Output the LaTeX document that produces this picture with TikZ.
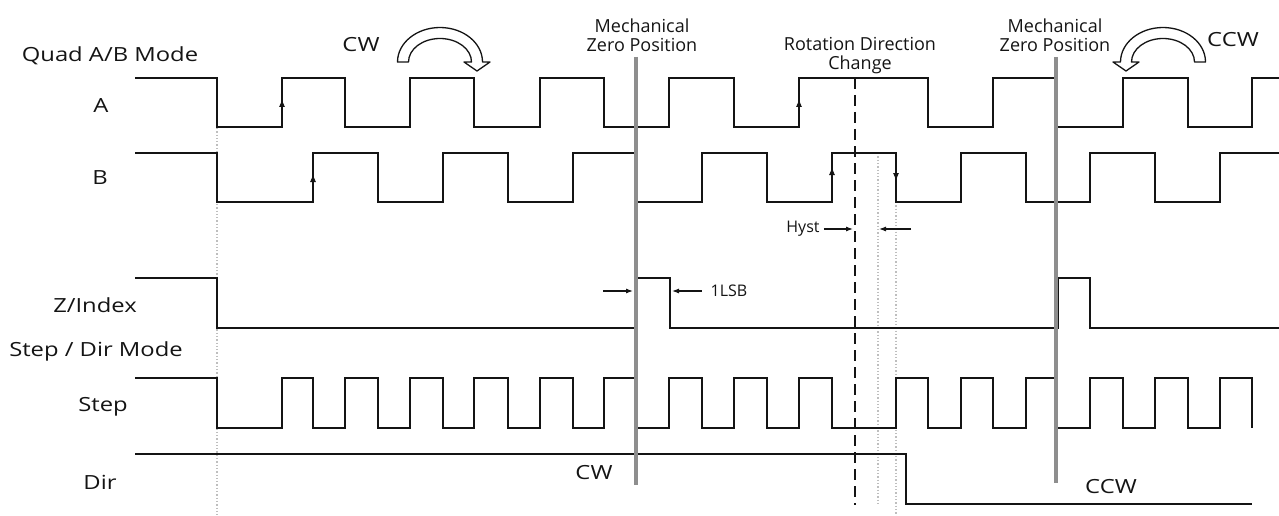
\documentclass[tikz,border=0pt]{standalone}
\usepackage{fontspec}
\setsansfont{Open Sans}
\usetikzlibrary{arrows.meta}
\definecolor{ink}{HTML}{141414}
\definecolor{zerogray}{HTML}{8E8E8E}
\definecolor{guidegray}{HTML}{BEBEBE}
\newcommand{\widelabel}[1]{\scalebox{1.22}[1]{#1}}
\tikzset{
  wave/.style={draw=ink, line width=1.6pt, line join=miter},
  edgetip/.style={-{Latex[length=8pt,width=6pt]}, draw=ink, line width=1pt},
  zeroline/.style={draw=zerogray, line width=4.5pt},
  changeline/.style={draw=ink, line width=1.6pt, dash pattern=on 11pt off 6pt},
  guideline/.style={draw=guidegray, line width=1.3pt, dotted},
  siglabel/.style={font=\sffamily\fontsize{19.5}{22}\selectfont, text=ink, inner sep=0pt},
  notelabel/.style={font=\sffamily\fontsize{18}{19}\selectfont, text=ink,
    align=center, inner sep=0pt},
  smalllabel/.style={font=\sffamily\fontsize{16}{18}\selectfont, text=ink, inner sep=0pt},
  dimarrow/.style={-{Latex[length=7pt,width=5pt]}, draw=ink, line width=1.1pt},
  turnarrow/.style={draw=ink, fill=white, line width=1.3pt, line join=round},
}

\begin{document}
\begin{tikzpicture}[x=1pt, y=-1pt]
  \useasboundingbox (0,0) rectangle (1279,516);
  % signal names
  \node[siglabel] (quadmode) at (110,56)  {\widelabel{Quad A/B Mode}};
  \node[siglabel] (siga)     at (101,106) {\widelabel{A}};
  \node[siglabel] (sigb)     at (100,178) {\widelabel{B}};
  \node[siglabel] (sigz)     at (95,305)  {\widelabel{Z/Index}};
  \node[siglabel] (stepmode) at (96,351)  {\widelabel{Step / Dir Mode}};
  \node[siglabel] (sigstep)  at (103,407) {\widelabel{Step}};
  \node[siglabel] (sigdir)   at (100,482) {\widelabel{Dir}};
  % guides
  \draw[guideline] (217,128) -- (217,516);
  \draw[guideline] (878,153) -- (878,505);
  \draw[guideline] (896,202) -- (896,516);
  % waveforms
  \draw[wave] (135,78) -| (217,127) -| (282,78) -| (345,127) -| (410,78) -| (474,127)
    -| (540,78) -| (604,127) -| (669,78) -| (734,127) -| (799,78) -| (928,127)
    -| (993,78) -| (1056,127) -| (1123,78) -| (1188,127) -| (1252,78) -- (1279,78);
  \draw[wave] (135,153) -| (217,202) -| (313,153) -| (378,202) -| (443,153) -| (508,202)
    -| (573,153) -| (636,202) -| (702,153) -| (767,202) -| (832,153) -| (896,202)
    -| (961,153) -| (1026,202) -| (1090,153) -| (1155,202) -| (1220,153) -- (1279,153);
  \draw[wave] (135,278) -| (217,328) -| (637,278) -| (670,328) -| (1058,278) -| (1090,328)
    -- (1279,328);
  \draw[wave] (135,378) -| (217,428) -| (282,378) -| (313,428) -| (345,378) -| (378,428)
    -| (410,378) -| (443,428) -| (474,378) -| (508,428) -| (540,378) -| (573,428)
    -| (604,378) -| (636,428) -| (669,378) -| (702,428) -| (734,378) -| (767,428)
    -| (799,378) -| (832,428) -| (896,378) -| (928,428) -| (961,378) -| (993,428)
    -| (1026,378) -| (1056,428) -| (1090,378) -| (1123,428) -| (1155,378) -| (1188,428)
    -| (1220,378) -| (1252,428);
  \draw[wave] (135,454) -| (906,504) -- (1252,504);
  % edge direction marks
  \draw[edgetip] (282,114) -- (282,99);
  \draw[edgetip] (313,189) -- (313,174);
  \draw[edgetip] (799,114) -- (799,99);
  \draw[edgetip] (832,182) -- (832,167);
  \draw[edgetip] (896,166) -- (896,181);
  % zero positions and direction change
  \draw[zeroline] (636,57) -- (636,485);
  \draw[zeroline] (1056,57) -- (1056,483);
  \draw[changeline] (855,78) -- (855,505);
  \node[notelabel] (zeroa)  at (642,35)   {Mechanical\\Zero Position};
  \node[notelabel] (zerob)  at (1055,35)  {Mechanical\\Zero Position};
  \node[notelabel] (change) at (860,55.5) {Rotation Direction\\Change};
  % rotation arrows
  \node[siglabel] (cwtop)  at (361,45)  {\widelabel{CW}};
  \node[siglabel] (ccwtop) at (1233,40) {\widelabel{CCW}};
  \draw[turnarrow] (397.5,62) arc[start angle=180, end angle=0, x radius=42.5pt, y radius=34.5pt]
    -- (490,62) -- (477,71) -- (464,62) -- (471.5,62)
    arc[start angle=0, end angle=180, x radius=31.5pt, y radius=23.5pt] -- cycle;
  \draw[turnarrow] (1205.5,62) arc[start angle=0, end angle=180, x radius=42.5pt, y radius=34.5pt]
    -- (1113,62) -- (1126,71) -- (1139,62) -- (1131.5,62)
    arc[start angle=180, end angle=0, x radius=31.5pt, y radius=23.5pt] -- cycle;
  % hysteresis
  \node[smalllabel] (hyst) at (803,229) {Hyst};
  \coordinate (hystin) at (853,229);
  \coordinate (hystout) at (911,229);
  \coordinate (hystend) at (879,229);
  \draw[dimarrow] ([xshift=4pt]hyst.east) -- (hystin);
  \draw[dimarrow] (hystout) -- (hystend);
  % index pulse width
  \node[smalllabel] (lsb) at (729,291) {1LSB};
  \coordinate (lsbout) at (603,291);
  \coordinate (lsbin) at (633,291);
  \coordinate (lsbend) at (672,291);
  \draw[dimarrow] (lsbout) -- (lsbin);
  \draw[dimarrow] ([xshift=-9pt]lsb.west) -- (lsbend);
  % direction levels
  \node[siglabel] (dircw)  at (594,473)  {\widelabel{CW}};
  \node[siglabel] (dirccw) at (1111,487) {\widelabel{CCW}};
\end{tikzpicture}
\end{document}
